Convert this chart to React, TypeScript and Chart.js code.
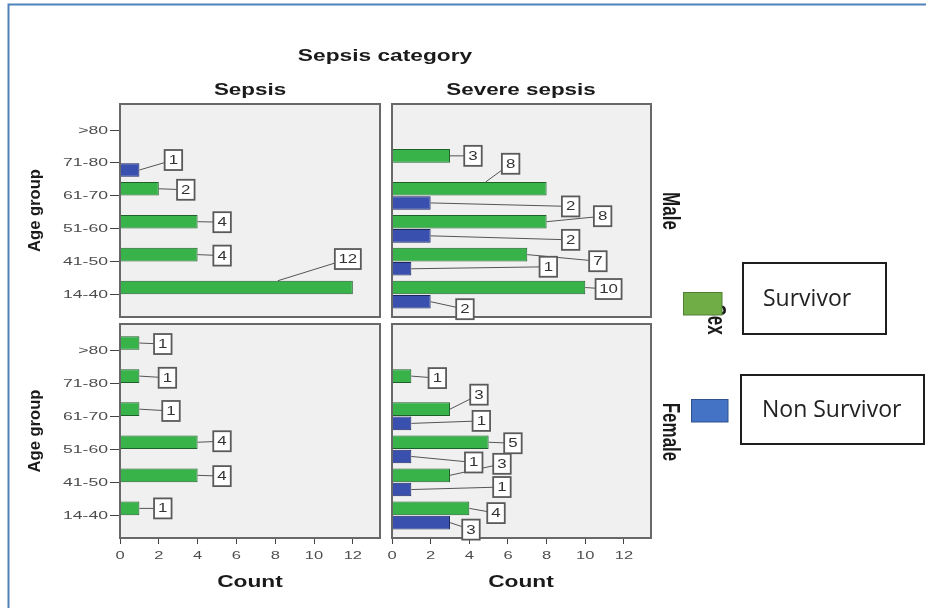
import React, { useEffect, useRef } from 'react';
import { Chart, registerables } from 'chart.js';

Chart.register(...registerables);

// ---------- data ----------
const ageGroups = ['14-40', '41-50', '51-60', '61-70', '71-80', '>80'];
const sepsisCategories = ['Sepsis', 'Severe sepsis'];
const sexes = ['Male', 'Female'];
const outcomes = ['Survivor', 'Non Survivor'];
const countTicks = [0, 2, 4, 6, 8, 10, 12];

const chartTitle = 'Sepsis category';
const yTitle = 'Age group';
const xTitle = 'Count';
const rowTitle = 'Sex';

const maleSepsisSurvivor = [12, 4, 4, 2, null, null];
const maleSepsisNonSurvivor = [null, null, null, null, 1, null];
const maleSevereSurvivor = [10, 7, 8, 8, 3, null];
const maleSevereNonSurvivor = [2, 1, 2, 2, null, null];
const femaleSepsisSurvivor = [1, 4, 4, 1, 1, 1];
const femaleSepsisNonSurvivor = [null, null, null, null, null, null];
const femaleSevereSurvivor = [4, 3, 5, 3, 1, null];
const femaleSevereNonSurvivor = [3, 1, 1, 1, null, null];

// ---------- label placement (px offsets of label box from bar end) ----------
const maleSepsisLabelPos = [
  [[-5, -28.5, -75], [24.5, 1], [24.5, 0.5], [27, 1], null, null],
  [null, null, null, null, [34, -10], null],
];
const maleSevereLabelPos = [
  [[23.3, 1.5], [70.6, 6.6], [56, -5.5], [-36, -25, -61], [23, 0], null],
  [[34.3, 7.5], [137, -2], [140, 4], [140, 3.5], null, null],
];
const femaleSepsisLabelPos = [
  [[23.4, 0], [24.4, 0.8], [24.4, -1], [31.6, 1.8], [28, 1.7], [23.4, 1]],
  [null, null, null, null, null, null],
];
const femaleSevereLabelPos = [
  [[26.7, 4.7], [52, -11.5], [24.3, 1], [29, -14.5], [26, 2], null],
  [[21, 7], [90.6, -2.5], [62.4, 6], [70, -2.5], null, null],
];

// ---------- layout / style ----------
const W = 926;
const H = 608;
const X_MAX = 13.4;
const Y_MIN = -0.68;
const Y_MAX = 5.79;

const GREEN = '#37B34A';
const GREEN_EDGE = '#1F5F2B';
const BLUE = '#3950AE';
const BLUE_EDGE = '#1B2560';

const SANS = '"Liberation Sans", Arial, sans-serif';

const panels = [
  { survivor: maleSepsisSurvivor, non: maleSepsisNonSurvivor, pos: maleSepsisLabelPos, area: { l: 120, t: 104, r: 380, b: 317 }, showY: true, showX: false },
  { survivor: maleSevereSurvivor, non: maleSevereNonSurvivor, pos: maleSevereLabelPos, area: { l: 392, t: 104, r: 651, b: 317 }, showY: false, showX: false },
  { survivor: femaleSepsisSurvivor, non: femaleSepsisNonSurvivor, pos: femaleSepsisLabelPos, area: { l: 120, t: 324, r: 380, b: 538 }, showY: true, showX: true },
  { survivor: femaleSevereSurvivor, non: femaleSevereNonSurvivor, pos: femaleSevereLabelPos, area: { l: 392, t: 324, r: 651, b: 538 }, showY: false, showX: true },
];

function toPoints(values: (number | null)[]) {
  const pts: { x: number; y: number }[] = [];
  values.forEach((v, i) => {
    if (v !== null && v !== undefined) pts.push({ x: v, y: i });
  });
  return pts;
}

function drawText(ctx: CanvasRenderingContext2D, text: string, x: number, y: number, o: any) {
  ctx.save();
  ctx.translate(x, y);
  if (o.rot) ctx.rotate(o.rot);
  ctx.scale(o.sx ?? 1, o.sy ?? 1);
  ctx.font = o.font;
  ctx.fillStyle = o.color ?? '#1a1a1a';
  ctx.textAlign = o.align ?? 'center';
  ctx.textBaseline = o.baseline ?? 'alphabetic';
  ctx.fillText(text, 0, 0);
  ctx.restore();
}

function panelPlugin(p: any) {
  return {
    id: 'panel',
    beforeDraw(chart: any) {
      const { ctx, chartArea: a } = chart;
      ctx.save();
      ctx.fillStyle = '#F0F0F0';
      ctx.fillRect(a.left, a.top, a.right - a.left, a.bottom - a.top);
      ctx.restore();
    },
    afterDatasetsDraw(chart: any) {
      const { ctx, chartArea: a } = chart;
      ctx.save();
      ctx.strokeStyle = '#686868';
      ctx.lineWidth = 2;
      ctx.strokeRect(a.left, a.top, a.right - a.left, a.bottom - a.top);
      ctx.restore();

      // value labels with leader lines
      const items: any[] = [];
      chart.data.datasets.forEach((ds: any, d: number) => {
        const meta = chart.getDatasetMeta(d);
        meta.data.forEach((el: any, j: number) => {
          const raw = ds.data[j];
          const off = p.pos[d][raw.y];
          if (!off) return;
          const { x, y, height } = el.getProps(['x', 'y', 'height'], true);
          const ax = off.length > 2 ? x + off[2] : x;
          const ay = off.length > 2 ? y - height / 2 : y;
          items.push({ ax, ay, bx: x + off[0], by: y + off[1], text: String(raw.x) });
        });
      });
      ctx.save();
      ctx.strokeStyle = '#555';
      ctx.lineWidth = 1;
      items.forEach((it) => {
        ctx.beginPath();
        ctx.moveTo(it.ax, it.ay);
        ctx.lineTo(it.bx, it.by);
        ctx.stroke();
      });
      items.forEach((it) => {
        const w = it.text.length > 1 ? 26 : 17.5;
        const h = 20;
        ctx.fillStyle = '#FFFFFF';
        ctx.fillRect(it.bx - w / 2, it.by - h / 2, w, h);
        ctx.strokeStyle = '#5A5A5A';
        ctx.lineWidth = 1.8;
        ctx.strokeRect(it.bx - w / 2, it.by - h / 2, w, h);
        drawText(ctx, it.text, it.bx, it.by + 0.5, { font: `12.5px ${SANS}`, color: '#333', baseline: 'middle', sx: 1.35 });
      });
      ctx.restore();
    },
    afterDraw(chart: any) {
      const { ctx } = chart;
      if (p.showY) {
        const ys = chart.scales.y;
        ys.ticks.forEach((t: any) => {
          const py = ys.getPixelForValue(t.value);
          drawText(ctx, ageGroups[t.value], chart.chartArea.left - 12, py + 0.5, {
            font: `11px ${SANS}`, color: '#4d4d4d', align: 'right', baseline: 'middle', sx: 1.6,
          });
        });
      }
      if (p.showX) {
        const xs = chart.scales.x;
        xs.ticks.forEach((t: any) => {
          const px = xs.getPixelForValue(t.value);
          drawText(ctx, String(t.value), px, chart.chartArea.bottom + 21, {
            font: `11px ${SANS}`, color: '#4d4d4d', align: 'center', baseline: 'alphabetic', sx: 1.5,
          });
        });
      }
    },
  };
}

const decorations = {
  id: 'decorations',
  afterDraw(chart: any) {
    const ctx: CanvasRenderingContext2D = chart.ctx;
    ctx.save();
    ctx.strokeStyle = '#4F81BD';
    ctx.lineWidth = 2;
    ctx.beginPath();
    ctx.moveTo(8.5, H);
    ctx.lineTo(8.5, 4.5);
    ctx.lineTo(W, 4.5);
    ctx.stroke();
    ctx.restore();

    const B16 = `bold 16px ${SANS}`;
    drawText(ctx, chartTitle, 385, 61, { font: B16, sx: 1.42 });
    drawText(ctx, sepsisCategories[0], 250, 95, { font: B16, sx: 1.4 });
    drawText(ctx, sepsisCategories[1], 521, 95, { font: B16, sx: 1.4 });
    drawText(ctx, xTitle, 250, 587, { font: B16, sx: 1.42 });
    drawText(ctx, xTitle, 521, 587, { font: B16, sx: 1.42 });
    drawText(ctx, yTitle, 39.5, 210.5, { font: `bold 16.6px ${SANS}`, rot: -Math.PI / 2 });
    drawText(ctx, yTitle, 39.5, 431, { font: `bold 16.6px ${SANS}`, rot: -Math.PI / 2 });
    drawText(ctx, sexes[0], 663, 211, { font: `bold 17px ${SANS}`, rot: Math.PI / 2, sy: 1.4 });
    drawText(ctx, sexes[1], 663, 432, { font: `bold 17px ${SANS}`, rot: Math.PI / 2, sy: 1.4 });
    drawText(ctx, rowTitle, 708, 319.5, { font: `bold 17px ${SANS}`, rot: Math.PI / 2, sy: 1.5 });

    // legend swatches
    ctx.save();
    ctx.lineWidth = 1;
    ctx.fillStyle = '#70AD47';
    ctx.strokeStyle = '#507E32';
    ctx.fillRect(683, 292.5, 39, 22.5);
    ctx.strokeRect(683.5, 292.5, 38.5, 22.5);
    ctx.fillStyle = '#4472C4';
    ctx.strokeStyle = '#2F528F';
    ctx.fillRect(691, 399.5, 37, 22.5);
    ctx.strokeRect(691.5, 399.5, 36.5, 22.5);
    // legend text boxes
    ctx.fillStyle = '#FFFFFF';
    ctx.fillRect(743, 263, 143, 71);
    ctx.fillRect(741, 375, 183, 69);
    ctx.strokeStyle = '#1E1E1E';
    ctx.lineWidth = 2;
    ctx.strokeRect(743, 263, 143, 71);
    ctx.strokeRect(741, 375, 183, 69);
    ctx.restore();
    drawText(ctx, outcomes[0], 763, 299.5, { font: `23px "Open Sans", sans-serif`, color: '#222', align: 'left', baseline: 'middle' });
    drawText(ctx, outcomes[1], 762, 410.5, { font: `23px "Open Sans", sans-serif`, color: '#222', align: 'left', baseline: 'middle' });
  },
};

function makeConfig(p: any, first: boolean): any {
  const a = p.area;
  return {
    type: 'bar',
    data: {
      datasets: [
        {
          label: outcomes[0], data: toPoints(p.survivor),
          backgroundColor: GREEN, borderColor: GREEN_EDGE, borderWidth: 1,
          categoryPercentage: 0.86, barPercentage: 0.96,
        },
        {
          label: outcomes[1], data: toPoints(p.non),
          backgroundColor: BLUE, borderColor: BLUE_EDGE, borderWidth: 1,
          categoryPercentage: 0.86, barPercentage: 0.96,
        },
      ],
    },
    options: {
      indexAxis: 'y',
      responsive: false,
      animation: false,
      events: [],
      layout: { padding: { left: a.l, top: a.t, right: W - a.r, bottom: H - a.b } },
      plugins: { legend: { display: false }, tooltip: { enabled: false }, title: { display: false } },
      scales: {
        x: {
          type: 'linear', min: 0, max: X_MAX, offset: false,
          afterBuildTicks: (s: any) => { s.ticks = countTicks.map((v) => ({ value: v })); },
          afterFit: (s: any) => { s.height = 0; },
          ticks: { display: false },
          grid: { display: p.showX, offset: false, drawOnChartArea: false, drawTicks: true, tickLength: 6, color: '#444', lineWidth: 1 },
          border: { display: false },
        },
        y: {
          type: 'linear', min: Y_MIN, max: Y_MAX, offset: false,
          afterBuildTicks: (s: any) => { s.ticks = ageGroups.map((_, i) => ({ value: i })); },
          afterFit: (s: any) => { s.width = 0; },
          ticks: { display: false },
          grid: { display: p.showY, offset: false, drawOnChartArea: false, drawTicks: true, tickLength: 10, color: '#444', lineWidth: 1 },
          border: { display: false },
        },
      },
    },
    plugins: first ? [decorations, panelPlugin(p)] : [panelPlugin(p)],
  };
}

export default function App() {
  const refs = useRef<(HTMLCanvasElement | null)[]>([]);
  useEffect(() => {
    const charts = panels.map((p, i) => new Chart(refs.current[i] as HTMLCanvasElement, makeConfig(p, i === 0)));
    return () => charts.forEach((c) => c.destroy());
  }, []);
  return (
    <div style={{ position: 'fixed', left: 0, top: 0, width: W, height: H, background: '#fff', overflow: 'hidden' }}>
      {panels.map((_, i) => (
        <canvas
          key={i}
          ref={(el) => { refs.current[i] = el; }}
          width={W}
          height={H}
          style={{ position: 'absolute', left: 0, top: 0, width: W, height: H }}
        />
      ))}
    </div>
  );
}
